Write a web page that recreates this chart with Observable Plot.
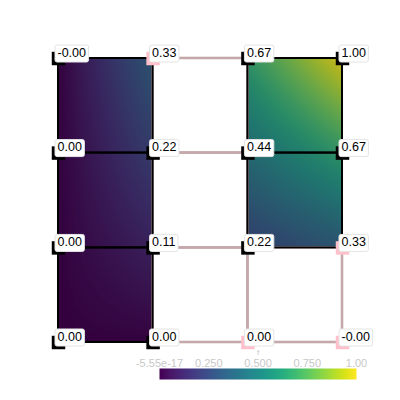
<!DOCTYPE html>
<html><head><meta charset="utf-8">
<script src="https://cdn.jsdelivr.net/npm/d3@7"></script>
<script src="https://cdn.jsdelivr.net/npm/@observablehq/plot@0.6"></script>
<style>
html,body{margin:0;padding:0;background:#fff;}
#wrap{position:relative;width:400px;height:400px;overflow:hidden;}
#cbar{position:absolute;left:129px;top:338px;}
.cellraster image{filter:brightness(0.8) saturate(0.9);}
</style></head><body><div id="wrap"><div id="main"></div><div id="cbar"></div></div>
<script>
// grid point coordinates (data space)
const xCoords = [0, 0.333, 0.667, 1];
const yCoords = [0, 0.333, 0.667, 1];
// point values, rows from bottom (y=0) to top (y=1)
const values = [
  [0.00, 0.00, 0.00, -5.55e-17],
  [0.00, 0.111, 0.222, 0.333],
  [0.00, 0.222, 0.444, 0.667],
  [-5.55e-17, 0.333, 0.667, 1.00]
];
// highlighted (pink) points
const pinkFlags = [
  [0, 0, 1, 1],
  [0, 0, 0, 1],
  [0, 0, 0, 0],
  [0, 1, 0, 0]
];
// cells: rows bottom to top, columns left to right; 1 = filled
const cellFilled = [
  [1, 0, 0],
  [1, 0, 1],
  [1, 0, 1]
];
const cmin = -5.55e-17, cmax = 1.0;
const cbarTicks = [-5.55e-17, 0.25, 0.5, 0.75, 1.0];
const cbarLabels = ["-5.55e-17", "0.250", "0.500", "0.750", "1.00"];
const cbarTitle = "f";

const FONT = "'Liberation Sans', Arial, sans-serif";

const points = [];
yCoords.forEach((y, j) => xCoords.forEach((x, i) => {
  points.push({x, y, v: values[j][i], pink: pinkFlags[j][i] === 1});
}));
const cells = [];
for (let j = 0; j < 3; j++) for (let i = 0; i < 3; i++) {
  cells.push({
    i, j,
    x0: xCoords[i], x1: xCoords[i + 1], y0: yCoords[j], y1: yCoords[j + 1],
    filled: cellFilled[j][i] === 1,
    corners: [
      {x: xCoords[i], y: yCoords[j], v: values[j][i]},
      {x: xCoords[i + 1], y: yCoords[j], v: values[j][i + 1]},
      {x: xCoords[i], y: yCoords[j + 1], v: values[j + 1][i]},
      {x: xCoords[i + 1], y: yCoords[j + 1], v: values[j + 1][i + 1]}
    ]
  });
}

// bilinear interpolation between the 4 corner samples of a cell
function bilinear(index, width, height, X, Y, V) {
  let xmin = Infinity, xmax = -Infinity, ymin = Infinity, ymax = -Infinity;
  for (const k of index) {
    xmin = Math.min(xmin, X[k]); xmax = Math.max(xmax, X[k]);
    ymin = Math.min(ymin, Y[k]); ymax = Math.max(ymax, Y[k]);
  }
  const mx = (xmin + xmax) / 2, my = (ymin + ymax) / 2;
  const c = [[0, 0], [0, 0]];
  for (const k of index) c[X[k] < mx ? 0 : 1][Y[k] < my ? 0 : 1] = V[k];
  const out = new Array(width * height);
  for (let r = 0; r < height; r++) {
    let v = (r + 0.5 - ymin) / (ymax - ymin); v = Math.max(0, Math.min(1, v));
    for (let q = 0; q < width; q++) {
      let u = (q + 0.5 - xmin) / (xmax - xmin); u = Math.max(0, Math.min(1, u));
      out[r * width + q] = c[0][0] * (1 - u) * (1 - v) + c[1][0] * u * (1 - v) + c[0][1] * (1 - u) * v + c[1][1] * u * v;
    }
  }
  return out;
}

const rasters = cells.filter(c => c.filled).map(c =>
  Plot.raster(c.corners, {
    x: "x", y: "y", fill: "v",
    x1: c.x0, x2: c.x1, y1: c.y0, y2: c.y1,
    interpolate: bilinear, pixelSize: 1, className: "cellraster"
  })
);

const chart = Plot.plot({
  width: 400, height: 400,
  marginLeft: 58, marginRight: 58, marginTop: 58, marginBottom: 58,
  x: {domain: [0, 1], axis: null},
  y: {domain: [0, 1], axis: null},
  color: {type: "linear", scheme: "viridis", domain: [cmin, cmax]},
  style: {fontFamily: FONT, background: "#fff", overflow: "visible"},
  marks: [
    ...rasters,
    Plot.rect(cells.filter(c => !c.filled), {x1: "x0", x2: "x1", y1: "y0", y2: "y1", fill: "none", stroke: "#c4a8aa", strokeWidth: 2.6}),
    Plot.rect(cells.filter(c => c.filled), {x1: "x0", x2: "x1", y1: "y0", y2: "y1", fill: "none", stroke: "#000", strokeWidth: 2}),
    Plot.dot(points, {x: "x", y: "y", symbol: "square", r: 7.6, fill: d => d.pink ? "pink" : "black", stroke: null}),
    Plot.text(points, {x: "x", y: "y", text: d => d.v.toFixed(2), textAnchor: "start", lineAnchor: "bottom",
      dx: -1, dy: -2, fontSize: 12.5, fill: "#000", className: "ptlabel"})
  ]
});
document.getElementById("main").append(chart);

// white label boxes behind the point labels
chart.querySelectorAll(".ptlabel text").forEach(t => {
  const b = t.getBBox();
  const r = document.createElementNS("http://www.w3.org/2000/svg", "rect");
  r.setAttribute("x", b.x - 2.5);
  r.setAttribute("y", b.y - 0.5);
  r.setAttribute("width", b.width + 5);
  r.setAttribute("height", b.height + 3);
  r.setAttribute("rx", 2);
  r.setAttribute("fill", "#fff");
  r.setAttribute("stroke", "#e4e4e4");
  r.setAttribute("stroke-width", 1);
  if (t.getAttribute("transform")) r.setAttribute("transform", t.getAttribute("transform"));
  t.parentNode.insertBefore(r, t);
});

const cb = Plot.plot({
  width: 257, height: 45,
  marginLeft: 30, marginRight: 30, marginTop: 30, marginBottom: 4,
  x: {domain: [cmin, cmax]},
  y: {domain: [0, 1], axis: null},
  color: {type: "linear", scheme: "viridis", domain: [cmin, cmax]},
  style: {fontFamily: FONT, background: "transparent", overflow: "visible"},
  marks: [
    Plot.raster({fill: (x, y) => x, x1: cmin, x2: cmax, y1: 0, y2: 1, pixelSize: 1}),
    Plot.axisX({anchor: "top", ticks: cbarTicks, tickFormat: d => cbarLabels[cbarTicks.indexOf(d)],
      tickSize: 0, tickPadding: 2, fill: "#c8c8c8", fontSize: 11, label: null}),
    Plot.text([cbarTitle], {text: d => d, frameAnchor: "top", dy: -19, fill: "#c8c8c8", fontSize: 8})
  ]
});
document.getElementById("cbar").append(cb);
</script>
</body></html>
